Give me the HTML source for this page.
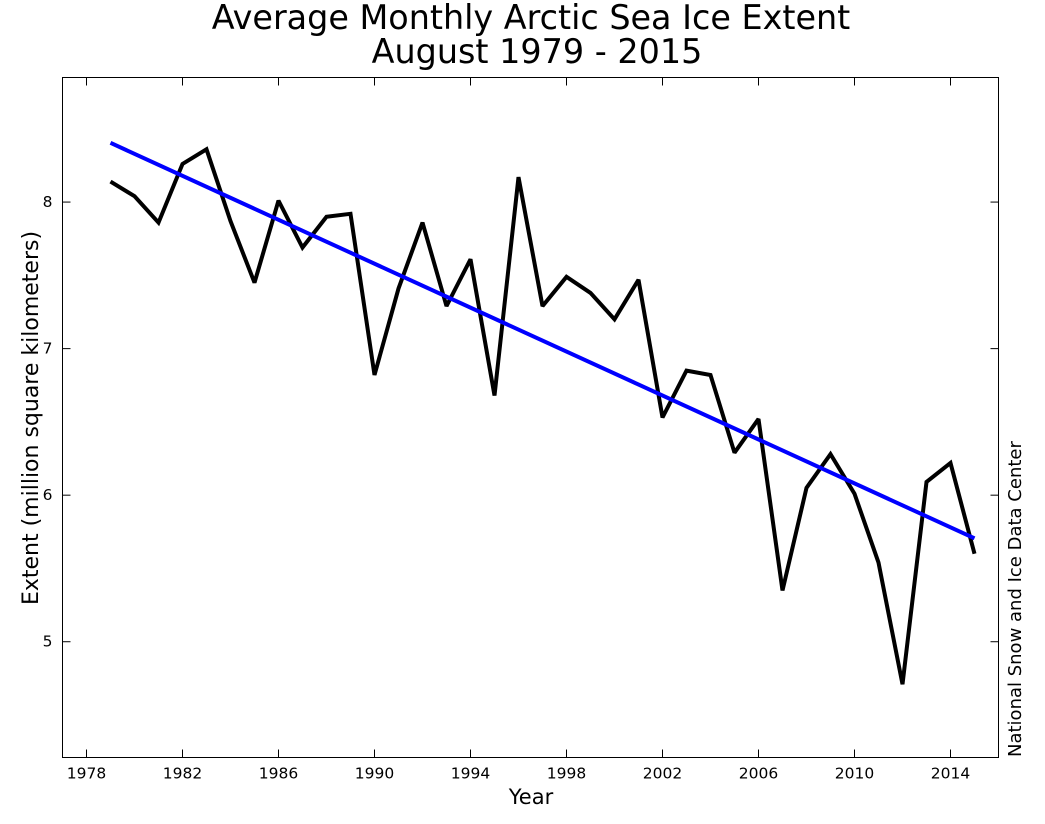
<!DOCTYPE html>
<html><head><meta charset="utf-8"><style>
body{margin:0;background:#fff;}
svg{display:block;font-family:"DejaVu Sans","Liberation Sans",sans-serif;}
</style></head><body>
<svg id="chart" width="1045" height="824">
<text x="531" y="29" font-size="33.4" text-anchor="middle">Average Monthly Arctic Sea Ice Extent</text>
<text x="537" y="63" font-size="33.4" text-anchor="middle">August 1979 - 2015</text>
<text x="531" y="804" font-size="21" text-anchor="middle">Year</text>
<text transform="translate(38,418) rotate(-90)" font-size="22" text-anchor="middle">Extent (million square kilometers)</text>
<text transform="translate(1021,757) rotate(-90)" font-size="18" text-anchor="start">National Snow and Ice Data Center</text>
<g id="ticks"></g>
<g id="marks"></g>
<rect x="62.5" y="77.5" width="936" height="680" fill="none" stroke="#000" stroke-width="1"/>
</svg>
<script>
const years=[1979,1980,1981,1982,1983,1984,1985,1986,1987,1988,1989,1990,1991,1992,1993,1994,1995,1996,1997,1998,1999,2000,2001,2002,2003,2004,2005,2006,2007,2008,2009,2010,2011,2012,2013,2014,2015];
const extent=[8.14,8.04,7.86,8.26,8.36,7.87,7.45,8.01,7.69,7.90,7.92,6.82,7.41,7.86,7.29,7.61,6.68,8.17,7.29,7.49,7.38,7.20,7.47,6.53,6.85,6.82,6.29,6.52,5.35,6.05,6.28,6.01,5.54,4.71,6.09,6.22,5.60];
const xTicks=[1978,1982,1986,1990,1994,1998,2002,2006,2010,2014];
const yTicks=[5,6,7,8];
const NS="http://www.w3.org/2000/svg";
const L=62.5,R=998.5,T=77.5,B=757.5;
const xMin=1977,xMax=2016,yMin=4.21,yMax=8.85;
const X=v=>L+(v-xMin)/(xMax-xMin)*(R-L);
const Y=v=>B-(v-yMin)/(yMax-yMin)*(B-T);
function mk(t,a,p){const e=document.createElementNS(NS,t);for(const k in a)e.setAttribute(k,a[k]);p.appendChild(e);return e;}
const tg=document.getElementById('ticks'),mg=document.getElementById('marks');
xTicks.forEach(v=>{
  const x=X(v);
  const t1=mk('line',{x1:x,x2:x,y1:B,y2:B-8,stroke:'#000'},tg);
  
  
  const t2=mk('line',{x1:x,x2:x,y1:T,y2:T+8,stroke:'#000'},tg);
  
  
  const tx=mk('text',{x:x,y:B+21,'font-size':15.5,'text-anchor':'middle'},tg);
  tx.textContent=v;
  
  
});
yTicks.forEach(v=>{
  const y=Y(v);
  const t1=mk('line',{x1:L,x2:L+8,y1:y,y2:y,stroke:'#000'},tg);
  
  
  const t2=mk('line',{x1:R,x2:R-8,y1:y,y2:y,stroke:'#000'},tg);
  
  
  const tx=mk('text',{x:L-10,y:y+5,'font-size':15.5,'text-anchor':'end'},tg);
  tx.textContent=v;
  
  
});
const pts=years.map((yr,i)=>X(yr)+','+Y(extent[i])).join(' ');
const line=mk('polyline',{points:pts,fill:'none',stroke:'#000','stroke-width':4,'stroke-linejoin':'miter','stroke-miterlimit':2},mg);


const n=years.length,mx=years.reduce((a,b)=>a+b)/n,my=extent.reduce((a,b)=>a+b)/n;
let sxy=0,sxx=0;years.forEach((x,i)=>{sxy+=(x-mx)*(extent[i]-my);sxx+=(x-mx)*(x-mx);});
const slope=sxy/sxx,ic=my-slope*mx;
const x0=years[0],x1=years[n-1];
const tr=mk('line',{x1:X(x0),y1:Y(ic+slope*x0),x2:X(x1),y2:Y(ic+slope*x1),stroke:'#0000ff','stroke-width':4},mg);


</script>
</body></html>
